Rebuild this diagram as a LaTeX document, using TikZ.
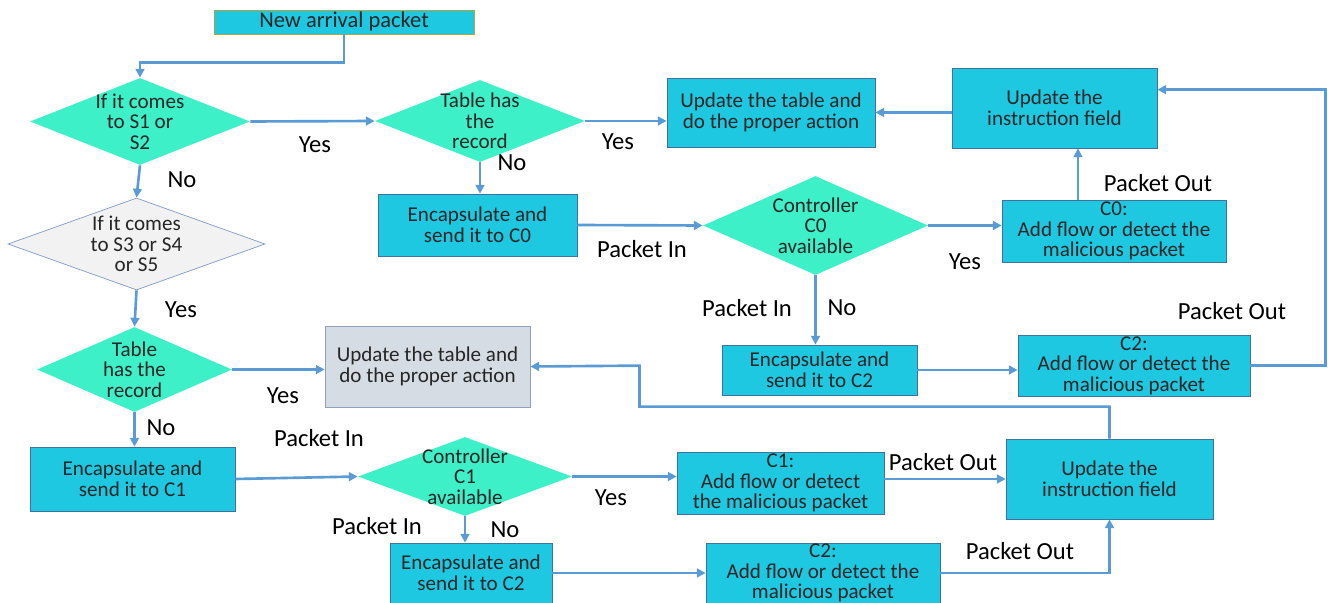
\documentclass[tikz,border=0pt]{standalone}
\usepackage{fontspec}
\setmainfont{Carlito}
\usetikzlibrary{shapes.geometric,arrows.meta}

\definecolor{boxfill}{RGB}{30,200,225}
\definecolor{boxline}{RGB}{65,113,156}
\definecolor{decfill}{RGB}{62,240,200}
\definecolor{linkblue}{RGB}{91,155,213}
\definecolor{grayfill}{RGB}{242,242,242}
\definecolor{grayline}{RGB}{127,156,200}
\definecolor{updfill}{RGB}{214,220,228}
\definecolor{updline}{RGB}{142,160,190}
\definecolor{startline}{RGB}{180,164,60}

\tikzset{
  box/.style={rectangle, draw=boxline, fill=boxfill, align=center, inner sep=0pt, text=black!85},
  dec/.style={diamond, fill=decfill, align=center, inner xsep=0pt, inner ysep=-8pt, text=black!85},
  link/.style={->, draw=linkblue, line width=1.5pt},
  lbl/.style={font=\fontsize{14}{16}\selectfont, text=black, inner sep=0pt}
}

\begin{document}
\begin{tikzpicture}[x=0.2mm, y=-0.2mm, font=\fontsize{12}{11.7}\selectfont, >={Triangle[length=5pt,width=5pt]}]
  \useasboundingbox (0,0) rectangle (1328,603);

  % S1 / S2 branch
  \node[box, draw=startline, minimum width=5.2cm, minimum height=0.48cm, font=\fontsize{12.8}{14}\selectfont] (newpkt) at (344,22) {New arrival packet};
  \node[dec, aspect=2.53, minimum width=4.4cm, minimum height=1.74cm] (s12) at (140,121.5) {If it comes\\to S1 or\\S2};
  \node[dec, aspect=2.56, minimum width=4.2cm, minimum height=1.64cm] (tab0) at (480,121) {Table has\\the\\record};
  \node[box, minimum width=4.16cm, minimum height=1.38cm] (upd0) at (771,112.5) {Update the table and\\do the proper action};
  \node[box, minimum width=4.1cm, minimum height=1.6cm] (ins0) at (1054.5,108) {Update the\\instruction field};
  \node[box, minimum width=3.98cm, minimum height=1.24cm] (enc0) at (477.5,225) {Encapsulate and\\send it to C0};
  \node[dec, aspect=2.27, minimum width=4.5cm, minimum height=1.98cm] (ctl0) at (815.5,225.5) {Controller\\C0\\available};
  \node[box, minimum width=4.48cm, minimum height=1.24cm] (add0) at (1114,231) {C0:\\Add flow or detect the\\malicious packet};
  \node[box, minimum width=3.9cm, minimum height=1cm] (enc2a) at (819.5,370) {Encapsulate and\\send it to C2};
  \node[box, minimum width=4.64cm, minimum height=1.22cm] (add2a) at (1134,365.5) {C2:\\Add flow or detect the\\malicious packet};

  % S3 / S4 / S5 branch
  \node[dec, fill=grayfill, draw=grayline, aspect=2.8, minimum width=5.14cm, minimum height=1.84cm] (s345) at (136.5,244) {If it comes\\to S3 or S4\\or S5};
  \node[dec, aspect=2.3, minimum width=3.9cm, minimum height=1.7cm] (tab1) at (134.5,369.5) {Table\\has the\\record};
  \node[box, fill=updfill, draw=updline, minimum width=4.1cm, minimum height=1.62cm] (upd1) at (427.5,366.5) {Update the table and\\do the proper action};
  \node[box, minimum width=4.1cm, minimum height=1.28cm] (enc1) at (132.5,479) {Encapsulate and\\send it to C1};
  \node[dec, aspect=2.7, minimum width=4.28cm, minimum height=1.58cm] (ctl1) at (465,476.5) {Controller\\C1\\available};
  \node[box, minimum width=4.14cm, minimum height=1.24cm] (add1) at (780.5,483) {C1:\\Add flow or detect\\the malicious packet};
  \node[box, minimum width=4.14cm, minimum height=1.6cm] (ins1) at (1109.5,479) {Update the\\instruction field};
  \node[box, minimum width=3.24cm, minimum height=1.2cm] (enc2b) at (471,573) {Encapsulate and\\send it to C2};
  \node[box, minimum width=4.68cm, minimum height=1.2cm] (add2b) at (823,573) {C2:\\Add flow or detect the\\malicious packet};

  % connectors, upper part
  \draw[link] (newpkt.south) -- ++(0,28) -| (s12.north);
  \draw[link] (s12.east) -- (tab0.west);
  \draw[link] (tab0.east) -- (tab0.east -| upd0.west);
  \draw[link] (upd0.east -| ins0.west) -- (upd0.east);
  \draw[link] (tab0.south) -- (tab0.south |- enc0.north);
  \draw[link] (enc0.east) -- (ctl0.west);
  \draw[link] (ctl0.east) -- (ctl0.east -| add0.west);
  \draw[link] ([xshift=-0.72cm]add0.north) -- ([xshift=-0.72cm]add0.north |- ins0.south);
  \draw[link] (ctl0.south) -- (ctl0.south |- enc2a.north);
  \draw[link] (enc2a.east) -- (enc2a.east -| add2a.west);
  \draw[link] (add2a.east) -- ++(75,0) |- ([yshift=-0.44cm]ins0.north east);

  % connectors, lower part
  \draw[link] (s12.south) -- (s345.north);
  \draw[link] (s345.south) -- (tab1.north);
  \draw[link] (tab1.east) -- (tab1.east -| upd1.west);
  \draw[link] (tab1.south) -- (tab1.south |- enc1.north);
  \draw[link] (enc1.east) -- (ctl1.west);
  \draw[link] (ctl1.east) -- (ctl1.east -| add1.west);
  \draw[link] (add1.east |- ins1.west) -- (ins1.west);
  \draw[link] (ins1.north) -- ++(0,-32) -| ++(-470,-41) -- (upd1.east);
  \draw[link] (ctl1.south) -- (ctl1.south |- enc2b.north);
  \draw[link] (enc2b.east) -- (enc2b.east -| add2b.west);
  \draw[link] (add2b.east) -| (ins1.south);

  % labels
  \node[lbl] (yes0) at (315,145) {Yes};
  \node[lbl] (no0) at (182,180) {No};
  \node[lbl] (yes1) at (618,142) {Yes};
  \node[lbl] (no1) at (512,163) {No};
  \node[lbl] (in0) at (642,249) {Packet In};
  \node[lbl] (yes2) at (965,262) {Yes};
  \node[lbl] (out0) at (1158,183) {Packet Out};
  \node[lbl] (in1) at (747,308) {Packet In};
  \node[lbl] (no2) at (842,308) {No};
  \node[lbl] (out1) at (1232,311) {Packet Out};
  \node[lbl] (yes3) at (181,310) {Yes};
  \node[lbl] (yes4) at (283,396) {Yes};
  \node[lbl] (no3) at (161,428) {No};
  \node[lbl] (in2) at (319,438) {Packet In};
  \node[lbl] (yes5) at (611,498) {Yes};
  \node[lbl] (out2) at (943,462) {Packet Out};
  \node[lbl] (in3) at (377,526) {Packet In};
  \node[lbl] (no4) at (505,530) {No};
  \node[lbl] (out3) at (1020,551) {Packet Out};
\end{tikzpicture}
\end{document}
